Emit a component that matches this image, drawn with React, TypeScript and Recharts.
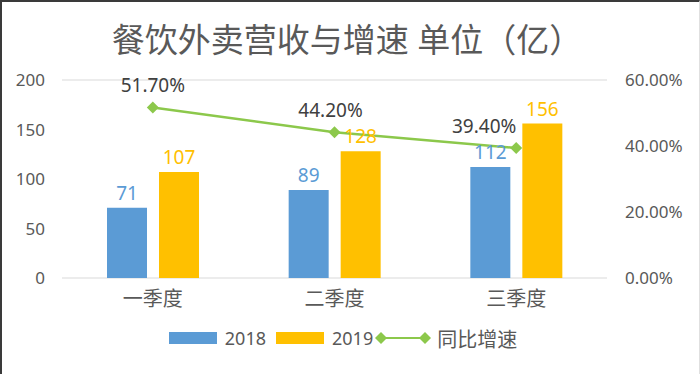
import React from 'react';
import { ComposedChart, Bar, Line, XAxis, YAxis, CartesianGrid, Legend, LabelList } from 'recharts';

const quarters = ['一季度', '二季度', '三季度'];
const revenue2018 = [71, 89, 112];
const revenue2019 = [107, 128, 156];
const growth = [0.517, 0.442, 0.394];
const leftTicks = [0, 50, 100, 150, 200];
const rightTicks = [0, 0.2, 0.4, 0.6];

const data = quarters.map((q, i) => ({
  name: q,
  y2018: revenue2018[i],
  y2019: revenue2019[i],
  rate: growth[i],
}));

const FONT = '"Noto Sans", "Noto Sans CJK SC", sans-serif';
const BLUE = '#5b9bd5';
const GOLD = '#ffc000';
const GREEN = '#8cc84b';
const GREY = '#595959';

const Diamond = (props: any) => {
  const { cx, cy } = props;
  if (cx == null || cy == null) return null;
  const r = 6;
  return <path d={`M${cx},${cy - r}L${cx + r},${cy}L${cx},${cy + r}L${cx - r},${cy}Z`} fill={GREEN} />;
};

const rateShift = [0, -4, -32];
const RateLabel = (props: any) => {
  const { x, y, value, index } = props;
  return (
    <text x={x + (rateShift[index] || 0)} y={y - 15} textAnchor="middle" fill="#404040" fontSize={19} fontFamily={FONT}>
      {(value * 100).toFixed(2)}%
    </text>
  );
};

const LegendContent = () => (
  <div style={{ display: 'flex', alignItems: 'center', justifyContent: 'center', fontFamily: FONT, color: GREY, height: 26, marginLeft: -14 }}>
    <span style={{ width: 48, height: 12, background: BLUE, display: 'inline-block', marginRight: 8 }} />
    <span style={{ fontSize: 18, marginRight: 10 }}>2018</span>
    <span style={{ width: 48, height: 12, background: GOLD, display: 'inline-block', marginRight: 8 }} />
    <span style={{ fontSize: 18 }}>2019</span>
    <svg width={56} height={16} style={{ margin: '0 2px' }}>
      <line x1={6} y1={8} x2={50} y2={8} stroke={GREEN} strokeWidth={2} />
      <path d="M6,2L12,8L6,14L0,8Z" fill={GREEN} />
      <path d="M50,2L56,8L50,14L44,8Z" fill={GREEN} />
    </svg>
    <span style={{ fontSize: 20, marginLeft: 4 }}>同比增速</span>
  </div>
);

export default function App() {
  return (
    <div
      style={{
        position: 'absolute',
        left: 0,
        top: 0,
        width: 700,
        height: 374,
        background: '#fff',
        boxSizing: 'border-box',
        borderTop: '2px solid #3a3a3a',
        borderLeft: '2px solid #3a3a3a',
        borderRight: '1px solid #e0e0e0',
      }}
    >
      <div
        style={{
          position: 'absolute',
          top: 15,
          left: 0,
          width: 690,
          textAlign: 'center',
          fontFamily: FONT,
          fontSize: 33,
          color: GREY,
          lineHeight: '46px',
        }}
      >
        餐饮外卖营收与增速 单位（亿）
      </div>
      <div style={{ position: 'absolute', left: -2, top: -2 }}>
        <ComposedChart
          width={700}
          height={374}
          data={data}
          margin={{ top: 80, right: 0, bottom: 30, left: 0 }}
          barGap={12}
          barCategoryGap={45}
        >
          <CartesianGrid vertical={false} stroke="#d9d9d9" strokeWidth={1.2} />
          <XAxis
            dataKey="name"
            axisLine={false}
            tickLine={false}
            tickSize={0}
            tickMargin={14}
            height={40}
            tick={{ fill: GREY, fontSize: 20, fontFamily: FONT }}
          />
          <YAxis
            yAxisId="left"
            domain={[0, 200]}
            ticks={leftTicks}
            axisLine={false}
            tickLine={false}
            tickSize={0}
            tickMargin={17}
            width={62}
            tick={{ fill: GREY, fontSize: 17, fontFamily: FONT }}
          />
          <YAxis
            yAxisId="right"
            orientation="right"
            domain={[0, 0.6]}
            ticks={rightTicks}
            axisLine={false}
            tickLine={false}
            tickSize={0}
            tickMargin={18}
            width={93}
            tickFormatter={(v: number) => `${(v * 100).toFixed(2)}%`}
            tick={{ fill: GREY, fontSize: 17, fontFamily: FONT, textAnchor: 'start' }}
          />
          <Bar yAxisId="left" dataKey="y2018" name="2018" fill={BLUE} isAnimationActive={false}>
            <LabelList dataKey="y2018" position="top" offset={8} fill={BLUE} fontSize={19} fontFamily={FONT} />
          </Bar>
          <Bar yAxisId="left" dataKey="y2019" name="2019" fill={GOLD} isAnimationActive={false}>
            <LabelList dataKey="y2019" position="top" offset={8} fill={GOLD} fontSize={19} fontFamily={FONT} />
          </Bar>
          <Line
            yAxisId="right"
            dataKey="rate"
            name="同比增速"
            stroke={GREEN}
            strokeWidth={2.5}
            dot={<Diamond />}
            activeDot={false}
            isAnimationActive={false}
          >
            <LabelList dataKey="rate" content={<RateLabel />} />
          </Line>
          <Legend
            verticalAlign="bottom"
            content={<LegendContent />}
            wrapperStyle={{ position: 'absolute', top: 325, left: 0, width: 700, bottom: 'auto' }}
          />
        </ComposedChart>
      </div>
    </div>
  );
}
